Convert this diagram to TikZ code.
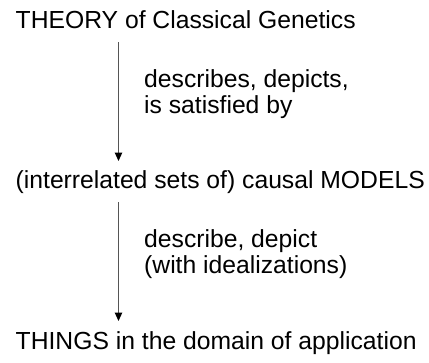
\documentclass[tikz,border=0pt]{standalone}
\usepackage{fontspec}
\setmainfont{Liberation Sans}
\usetikzlibrary{arrows.meta,calc}
\definecolor{linkgray}{HTML}{555555}
\begin{document}
\begin{tikzpicture}[x=1pt,y=1pt,
  term/.style={anchor=base west, inner sep=0pt, font=\fontsize{24.7}{26}\selectfont},
  rel/.style={anchor=base west, inner sep=0pt, font=\fontsize{24.7}{26}\selectfont},
  link/.style={draw=linkgray, line width=1.1pt, -{Triangle[width=7.5pt,length=8.5pt,color=black]}}]
\useasboundingbox (0,0) rectangle (429,-362);
% the three levels
\node[term] (theory) at (15.5,-28) {THEORY of Classical Genetics};
\node[term] (models) at (15.5,-188) {(interrelated sets of) causal MODELS};
\node[term] (things) at (15.5,-349) {THINGS in the domain of application};
% arrow end points below / above the texts
\coordinate (a1s) at ($(theory.base west)+(103,-14)$);
\coordinate (a1e) at ($(models.base west)+(103,27)$);
\coordinate (a2s) at ($(models.base west)+(103,-14)$);
\coordinate (a2e) at ($(things.base west)+(103,28)$);
\draw[link] (a1s) -- (a1e);
\draw[link] (a2s) -- (a2e);
% relation labels
\node[rel] (r1) at ($(a1s)+(25.5,-45)$)
  {\begin{tabular}[t]{@{}l@{}}describes, depicts,\\is satisfied by\end{tabular}};
\node[rel] (r2) at ($(a2s)+(25.5,-45)$)
  {\begin{tabular}[t]{@{}l@{}}describe, depict\\(with idealizations)\end{tabular}};
\end{tikzpicture}
\end{document}
